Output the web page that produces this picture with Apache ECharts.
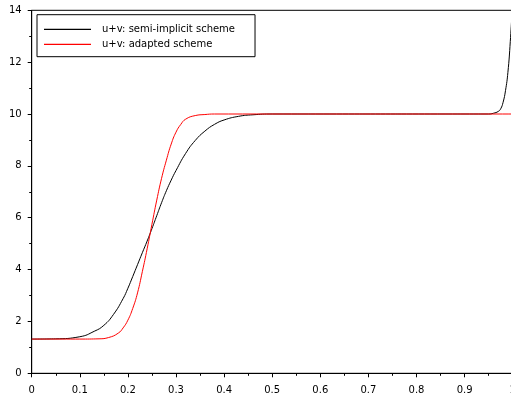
<!DOCTYPE html>
<html>
<head>
<meta charset="utf-8">
<script src="https://cdn.jsdelivr.net/npm/echarts@6/dist/echarts.min.js"></script>
<style>
  html, body { margin: 0; padding: 0; background: #fff; }
  #chart { width: 511px; height: 394px; }
</style>
</head>
<body>
<div id="chart"></div>
<script>
// semi-implicit scheme (black)
const semiX = [0, 0.05, 0.1, 0.13, 0.15, 0.17, 0.19, 0.2, 0.21, 0.22, 0.23, 0.24, 0.25, 0.26, 0.27, 0.28, 0.29, 0.3, 0.32, 0.34, 0.36, 0.38, 0.4, 0.43, 0.46, 0.5, 0.95, 0.96, 0.97, 0.975, 0.98, 0.985, 0.99, 0.995, 1.0];
const semiY = [1.32, 1.33, 1.41, 1.62, 1.85, 2.27, 2.88, 3.28, 3.73, 4.19, 4.65, 5.1, 5.58, 6.08, 6.58, 7.04, 7.45, 7.82, 8.48, 8.98, 9.34, 9.6, 9.77, 9.91, 9.97, 10, 10, 10.03, 10.1, 10.2, 10.45, 10.9, 11.6, 12.8, 14.4];

// adapted scheme (red)
const adaptX = [0, 0.1, 0.14, 0.16, 0.18, 0.19, 0.2, 0.21, 0.22, 0.23, 0.24, 0.25, 0.26, 0.27, 0.28, 0.29, 0.3, 0.31, 0.32, 0.34, 0.36, 0.38, 1.0];
const adaptY = [1.32, 1.32, 1.33, 1.38, 1.55, 1.75, 2.05, 2.5, 3.1, 3.92, 4.8, 5.75, 6.68, 7.52, 8.22, 8.84, 9.3, 9.6, 9.8, 9.94, 9.98, 10, 10];

const seriesNames = ['u+v: semi-implicit scheme', 'u+v: adapted scheme'];

const zip = (xs, ys) => xs.map((x, i) => [x, ys[i]]);

const chart = echarts.init(document.getElementById('chart'));

const labelFont = { color: '#000', fontFamily: 'DejaVu Sans', fontSize: 10 };

const axisCommon = {
  type: 'value',
  axisLine: { show: true, lineStyle: { color: '#000', width: 1 } },
  axisTick: { show: true, inside: false, length: 4, lineStyle: { color: '#000' } },
  minorTick: { show: true, splitNumber: 2, length: 2.5, lineStyle: { color: '#000' } },
  splitLine: { show: false }
};

chart.setOption({
  animation: false,
  backgroundColor: '#fff',
  grid: {
    left: 31.7,
    top: 10.3,
    right: -1.7,
    bottom: 20.7,
    outerBoundsMode: 'none',
    containLabel: false,
    show: true,
    borderColor: '#000',
    borderWidth: 1
  },
  legend: {
    orient: 'vertical',
    left: 37,
    top: 14.7,
    padding: [8.7, 20, 6.3, 7],
    itemGap: 3,
    itemWidth: 47,
    itemHeight: 1.2,
    icon: 'rect',
    borderColor: '#000',
    borderWidth: 1,
    backgroundColor: '#fff',
    textStyle: Object.assign({}, labelFont, { lineHeight: 12, padding: [0, 0, 0, 6] }),
    data: seriesNames
  },
  xAxis: Object.assign({}, axisCommon, {
    min: 0,
    max: 1,
    interval: 0.1,
    axisLabel: Object.assign({}, labelFont, { margin: 12 })
  }),
  yAxis: Object.assign({}, axisCommon, {
    min: 0,
    max: 14,
    interval: 2,
    axisLabel: Object.assign({}, labelFont, { margin: 10 })
  }),
  series: [
    {
      name: seriesNames[0],
      type: 'line',
      data: zip(semiX, semiY),
      showSymbol: false,
      symbol: 'none',
      smooth: 0.5,
      clip: true,
      color: '#000',
      lineStyle: { color: '#000', width: 1 }
    },
    {
      name: seriesNames[1],
      type: 'line',
      data: zip(adaptX, adaptY),
      showSymbol: false,
      symbol: 'none',
      smooth: 0.5,
      clip: true,
      color: '#ff0000',
      lineStyle: { color: '#ff0000', width: 1 }
    }
  ]
});
</script>
</body>
</html>
